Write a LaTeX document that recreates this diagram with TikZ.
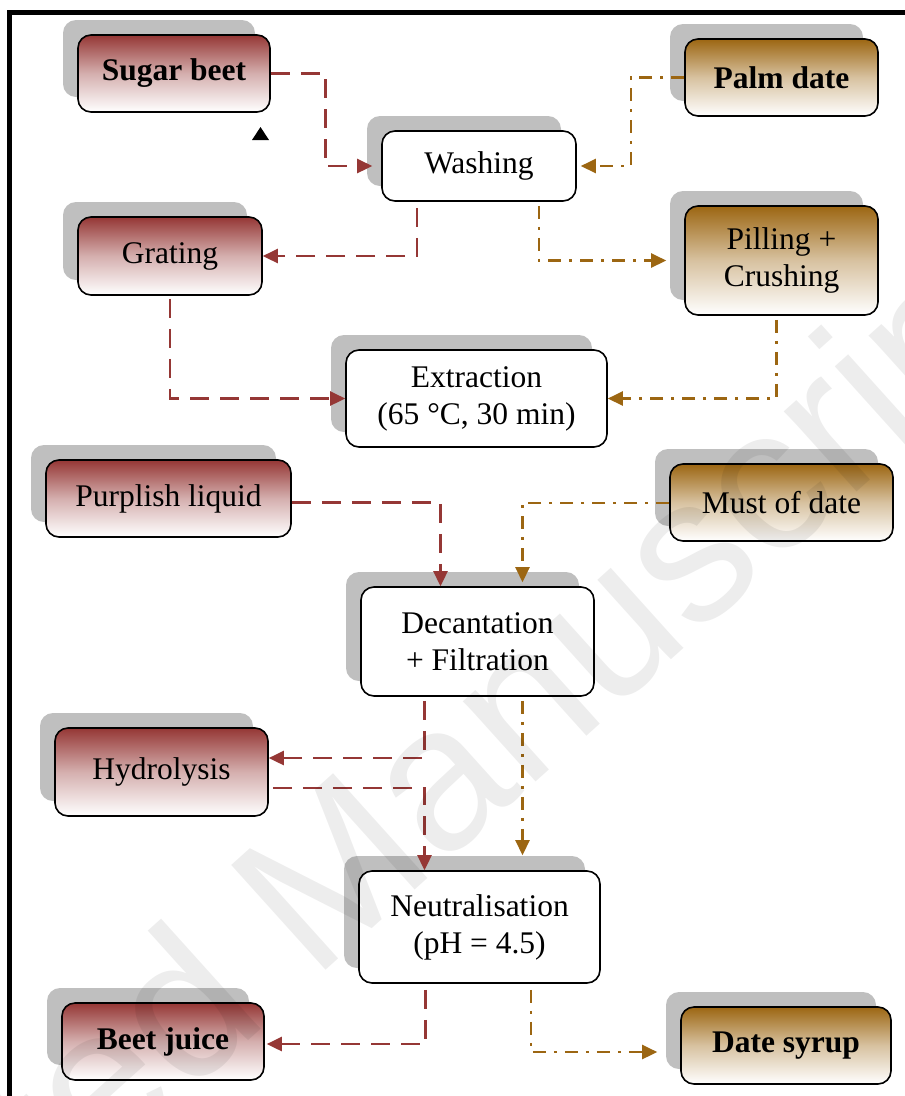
\documentclass[tikz,border=0pt]{standalone}
\usepackage{fontspec}
\newfontfamily\diagfont{Liberation Serif}
\newfontfamily\markfont{Liberation Sans}
\usetikzlibrary{arrows.meta,shadows}
\definecolor{beetred}{RGB}{149,55,53}
\definecolor{dategold}{RGB}{156,102,18}
\definecolor{shadowgray}{RGB}{191,191,191}
\tikzset{
  stepnode/.style={draw=black, line width=1.6pt, rounded corners=13pt, align=center, inner sep=3pt,
    font=\diagfont\fontsize{31.5}{37}\selectfont,
    general shadow={fill=shadowgray, shadow xshift=-15pt, shadow yshift=15pt}},
  beetbox/.style={stepnode, top color=beetred, bottom color=white, middle color=beetred!40},
  datebox/.style={stepnode, top color=dategold, bottom color=white, middle color=dategold!40},
  plainbox/.style={stepnode, fill=white},
  beetflow/.style={draw=beetred, line width=2.6pt, dash pattern=on 19pt off 11pt,
    -{Triangle[length=15pt,width=14pt]}},
  dateflow/.style={draw=dategold, line width=2.5pt, dash pattern=on 13pt off 8pt on 3pt off 8pt,
    -{Triangle[length=15pt,width=14pt]}},
}

\begin{document}
\begin{tikzpicture}[x=1pt,y=-1pt]
      \useasboundingbox (0,0) rectangle (905,1096);
      \draw[line width=5pt] (9.5,1096) -- (9.5,12.5) -- (905,12.5);
      \node[beetbox, minimum width=192pt, minimum height=77pt] (sugar) at (174,73.5) {\bfseries Sugar beet};
      \node[datebox, minimum width=193pt, minimum height=77pt] (palm) at (781.5,77.5) {\bfseries Palm date};
      \node[plainbox, minimum width=194pt, minimum height=70pt] (wash) at (479,166) {Washing};
      \node[beetbox, minimum width=184pt, minimum height=78pt] (grat) at (170,256) {Grating};
      \node[datebox, minimum width=193pt, minimum height=109pt] (pill) at (781.5,260.5) {Pilling +\\Crushing};
      \node[plainbox, minimum width=261pt, minimum height=97pt] (extr) at (476.5,398.5) {Extraction\\(65 °C, 30 min)};
      \node[beetbox, minimum width=245pt, minimum height=77pt] (purp) at (168.5,498.5) {Purplish liquid};
      \node[datebox, minimum width=223pt, minimum height=77pt] (must) at (781.5,502.5) {Must of date};
      \node[plainbox, minimum width=233pt, minimum height=109pt] (deca) at (477.5,641.5) {Decantation\\+ Filtration};
      \node[beetbox, minimum width=213pt, minimum height=88pt] (hydr) at (161.5,772) {Hydrolysis};
      \node[plainbox, minimum width=241pt, minimum height=112pt] (neut) at (479.5,927) {Neutralisation\\(pH = 4.5)};
      \node[beetbox, minimum width=202pt, minimum height=77pt] (beet) at (163,1041.5) {\bfseries Beet juice};
      \node[datebox, minimum width=210pt, minimum height=77pt] (syrup) at (786,1045.5) {\bfseries Date syrup};
      \draw[beetflow] (sugar.east) -| ([xshift=-56pt]wash.west) -- ([xshift=-9pt]wash.west);
      \draw[dateflow] (palm.west) -| ([xshift=54pt]wash.east) -- ([xshift=4pt]wash.east);
      \draw[beetflow] ([xshift=-62pt,yshift=-6pt]wash.south) |- (grat.east);
      \draw[dateflow] ([xshift=60pt,yshift=-4pt]wash.south) |- ([xshift=-18pt]pill.west);
      \draw[beetflow] ([yshift=-3pt]grat.south) |- (extr.west);
      \draw[dateflow] ([xshift=-5pt,yshift=-4pt]pill.south) |- (extr.east);
      \draw[beetflow] ([yshift=-4pt]purp.east) -| ([xshift=-37pt]deca.north);
      \draw[dateflow] ([yshift=-0.5pt]must.west) -| ([xshift=45pt,yshift=4pt]deca.north);
      \draw[beetflow] ([xshift=-53pt,yshift=-4pt]deca.south) |- ([yshift=14pt]hydr.east);
      \draw[beetflow] ([xshift=4pt,yshift=-16pt]hydr.east) -| ([xshift=-55pt]neut.north);
      \draw[dateflow] ([xshift=45pt,yshift=-4pt]deca.south) -- ([xshift=43pt,yshift=15pt]neut.north);
      \draw[beetflow] ([xshift=-54pt,yshift=-6pt]neut.south) |- ([xshift=2pt,yshift=-2.5pt]beet.east);
      \draw[dateflow] ([xshift=51.5pt,yshift=-6pt]neut.south) |- ([xshift=-23pt,yshift=-6.5pt]syrup.west);
      \fill (252,140) -- (269,140) -- (260.5,127) -- cycle;
      \node[rotate=42, text=black, text opacity=0.07, font=\markfont\fontsize{205}{205}\selectfont] (stamp) at (312,912) {Accepted Manuscript};
\end{tikzpicture}
\end{document}
